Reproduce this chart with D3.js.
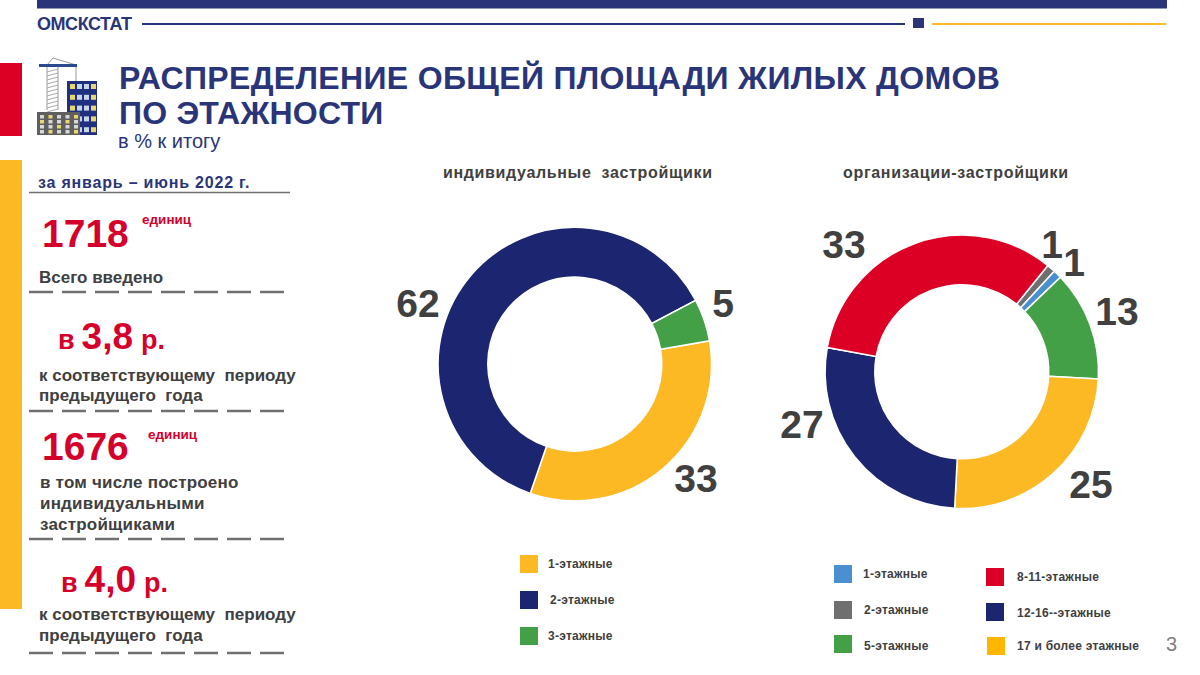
<!DOCTYPE html>
<html><head><meta charset="utf-8">
<script src="https://cdn.jsdelivr.net/npm/d3@7"></script>
<style>html,body{margin:0;padding:0;background:#fff}svg{display:block;font-family:"Liberation Sans",Arial,sans-serif}</style>
</head><body><svg id="c" width="1200" height="675"></svg>
<script>
const leftCategories = ["1-этажные","2-этажные","3-этажные"];
const leftValues = [33,62,5];
const leftColors = ["#fdb924","#1c2570","#43a047"];
const rightCategories = ["2-этажные","1-этажные","5-этажные","17 и более этажные","12-16--этажные","8-11-этажные"];
const rightValues = [1,1,13,25,27,33];
const rightColors = ["#6f6f6f","#4a90d0","#43a047","#fdb924","#1c2570","#dc0025"];

const NAVY="#2a3579", GREY="#404040", RED="#d5002b";
const svg=d3.select("#c");
const rect=(x,y,w,h,f)=>svg.append("rect").attr("x",x).attr("y",y).attr("width",w).attr("height",h).attr("fill",f);
const line=(x1,x2,y,c,w,dash)=>svg.append("line").attr("x1",x1).attr("x2",x2).attr("y1",y).attr("y2",y).attr("stroke",c).attr("stroke-width",w).attr("stroke-dasharray",dash||null);
const text=(x,y,s,size,fill,o={})=>svg.append("text").attr("x",x).attr("y",y).text(s).attr("font-size",size).attr("fill",fill)
  .attr("font-weight",o.w||"bold").attr("text-anchor",o.a||"start").attr("letter-spacing",o.ls||null).style("white-space","pre");

// frame
rect(37,0,1130,8.5,NAVY);
rect(0,63,22,73,"#dc0025");
rect(0,160,22,449,"#fdb924");
line(142,905,24,NAVY,2);
rect(913,18,11,10,NAVY);
line(932,1166,24,"#fdb924",2);
text(37,30,"ОМСКСТАТ",18,NAVY,{ls:"-0.45px"});

// icon
const ic=svg.append("g");
const ir=(x,y,w,h,f)=>ic.append("rect").attr("x",x).attr("y",y).attr("width",w).attr("height",h).attr("fill",f);
const il=(x1,y1,x2,y2,c,w)=>ic.append("line").attr("x1",x1).attr("y1",y1).attr("x2",x2).attr("y2",y2).attr("stroke",c).attr("stroke-width",w);
il(47,65,53,58,"#999",1);il(53,58,76,65,"#999",1);il(47,65,47,110,"#999",1);il(58,65,58,110,"#999",1);il(76,65,76,82,"#999",1);
for(let y=69;y<111;y+=4) il(47,y+3,58,y,"#aaa",1);
ir(39,64,38,3,"#2a4a90");
ir(67,81,30,54,"#1f3080");
const wc=["#e8d870","#c8d4ec"];
for(let r=0;r<5;r++)for(let c=0;c<4;c++) ir(70+c*7,84+r*10.8,5,5,wc[(r*3+c)%3==0?0:1]);
ir(37,112,43,23,"#5f5f5f");
for(let r=0;r<4;r++)for(let c=0;c<5;c++) ir(40+c*8.5,115+r*5,4,3.5,(r+c)%3==1?"#e8d870":"#d8d8d8");

// title
text(119,89,"РАСПРЕДЕЛЕНИЕ ОБЩЕЙ ПЛОЩАДИ ЖИЛЫХ ДОМОВ",32,NAVY,{ls:"0.34px"});
text(119,124,"ПО ЭТАЖНОСТИ",32,NAVY,{ls:"0.2px"});
text(118,148,"в % к итогу",20,NAVY,{w:"normal"});

// left panel
text(38,188,"за январь – июнь 2022 г.",16,NAVY,{ls:"0.8px"});
line(29,290,192.5,"#6f6f6f",1.5);
text(42,247,"1718",39,RED);
text(142,224,"единиц",13.5,RED);
text(39,283,"Всего введено",17,GREY);
line(29,284,292,"#707070",2.5,"24 9");
const mult=(x,y,a,b,c,gap)=>{const t=text(x,y,"",27,RED);
  t.append("tspan").text(a);t.append("tspan").attr("dx",gap).attr("font-size",37).text(b);t.append("tspan").attr("dx",gap+1).text(c);};
mult(58,349,"в","3,8","р.",7);
text(39,381,"к соответствующему  периоду",17,GREY);
text(39,401,"предыдущего  года",17,GREY);
line(29,284,411,"#707070",2.5,"24 9");
text(42,460,"1676",39,RED);
text(148,439,"единиц",13.5,RED);
text(40,488,"в том числе построено",17,GREY,{ls:"0.2px"});
text(40,509,"индивидуальными",17,GREY,{ls:"0.2px"});
text(40,530,"застройщиками",17,GREY,{ls:"0.2px"});
line(29,284,539,"#707070",2.5,"24 9");
mult(61,592,"в","4,0","р.",7);
text(39,620,"к соответствующему  периоду",17,GREY);
text(39,641,"предыдущего  года",17,GREY);
line(29,284,653,"#707070",2.5,"24 9");

// donuts
const arc=d3.arc().innerRadius(87).outerRadius(136.7);
function donut(cx,cy,vals,cols,start){
  const pie=d3.pie().sort(null).startAngle(start*Math.PI/180).endAngle((start+360)*Math.PI/180);
  svg.append("g").attr("transform",`translate(${cx},${cy})`).selectAll("path").data(pie(vals)).join("path")
    .attr("d",arc).attr("fill",(d,i)=>cols[i]).attr("stroke","#fff").attr("stroke-width",1.5);
}
donut(574.8,364.1,leftValues,leftColors,80.2);
donut(961.8,371.8,rightValues,rightColors,39);

text(443,178,"индивидуальные  застройщики",16,GREY,{ls:"0.65px"});
text(843,178,"организации-застройщики",16,GREY,{ls:"0.68px"});

// value labels, placed around each donut
const lab=(x,y,v)=>text(x,y,v,39,GREY,{a:"middle"});
[[696,492],[418,317],[723,317]].forEach((p,i)=>lab(p[0],p[1],leftValues[i]));
[[1052,258],[1074,276],[1117,325],[1091,498],[802,438],[844,258]].forEach((p,i)=>lab(p[0],p[1],rightValues[i]));

// legends
const leg=(sx,sy,tx,ty,s,c)=>{rect(sx,sy,18,18,c);text(tx,ty,s,12,GREY,{ls:"0.25px"});};
leg(520,555,548,568,leftCategories[0],leftColors[0]);
leg(520,591,550,604,leftCategories[1],leftColors[1]);
leg(520,627,548,640,leftCategories[2],leftColors[2]);
leg(834,565,863,578,rightCategories[1],rightColors[1]);
leg(834,601,864,614,rightCategories[0],rightColors[0]);
leg(834,635,864,650,rightCategories[2],rightColors[2]);
leg(986,568,1017,581,rightCategories[5],rightColors[5]);
leg(986,603,1017,617,rightCategories[4],rightColors[4]);
leg(987,637,1017,650,rightCategories[3],"#ffb600");

text(1166,651,"3",20,"#808080",{w:"normal"});
</script></body></html>
